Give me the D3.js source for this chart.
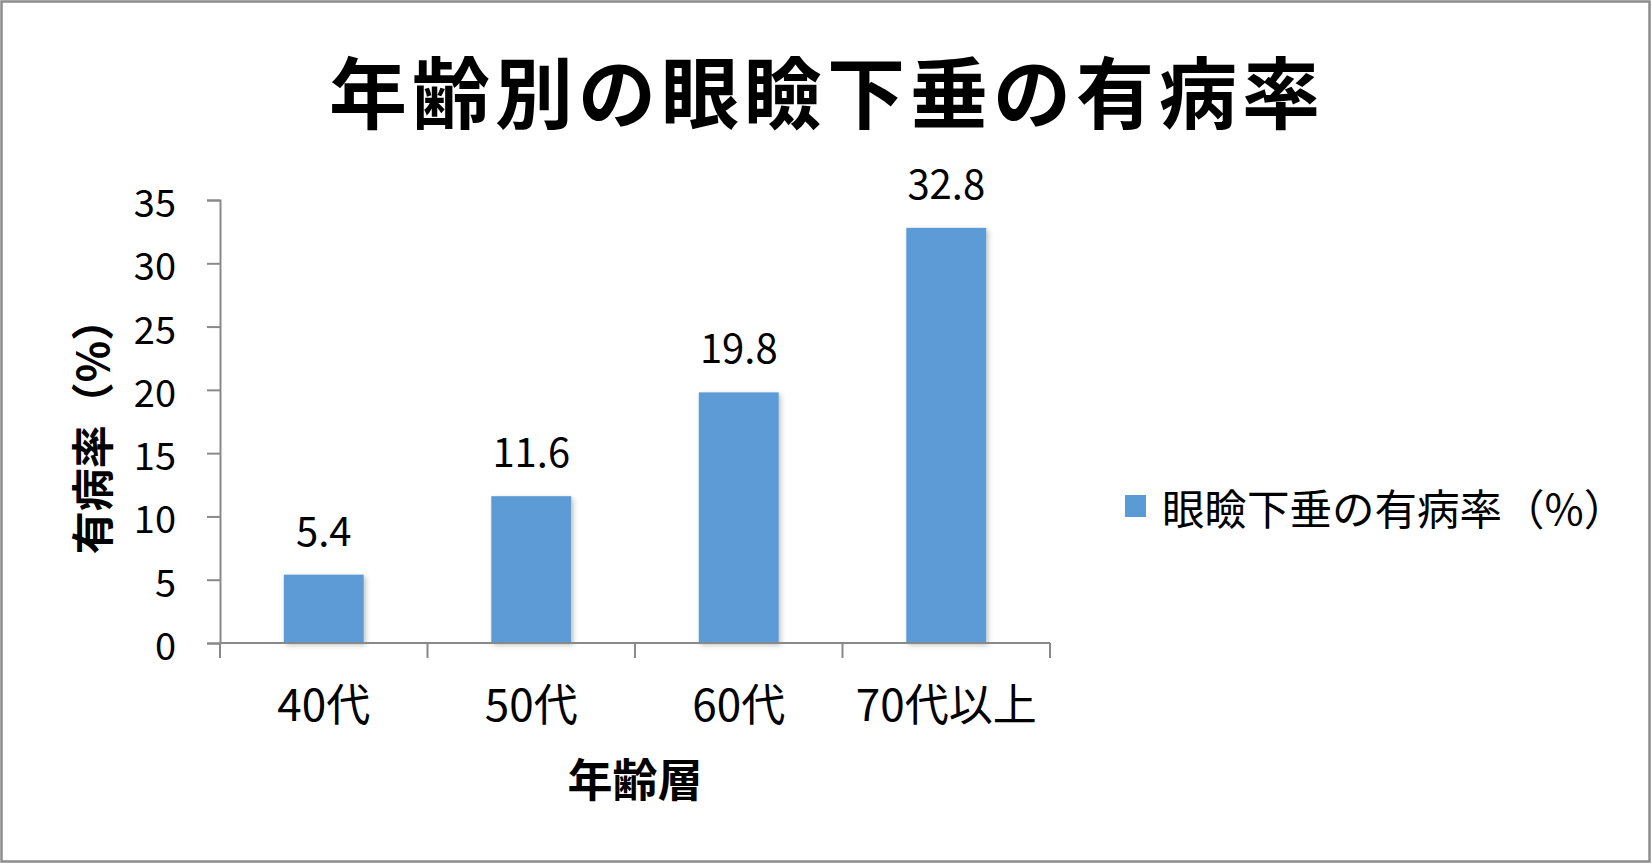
<!DOCTYPE html>
<html>
<head>
<meta charset="utf-8">
<script src="https://cdn.jsdelivr.net/npm/d3@7"></script>
<style>
  html, body { margin: 0; padding: 0; background: #fff; }
  svg { display: block; font-family: "Noto Sans CJK JP", "Noto Sans", sans-serif; }
</style>
</head>
<body>
<div id="viscontainer"></div>
<script>
const ageGroups = ["40代", "50代", "60代", "70代以上"];
const prevalence = [5.4, 11.6, 19.8, 32.8];
const yTicks = [0, 5, 10, 15, 20, 25, 30, 35];
const chartTitle = "年齢別の眼瞼下垂の有病率";
const xTitle = "年齢層";
const yTitle = "有病率（%）";
const seriesName = "眼瞼下垂の有病率（%）";

function makeVis() {
  const width = 1652;
  const height = 865;
  const plotLeft = 220;
  const plotRight = 1050;
  const plotTop = 200;
  const plotBottom = 643;
  const barColor = "#5B9BD5";
  const axisColor = "#898989";

  const data = ageGroups.map((g, i) => ({ group: g, value: prevalence[i] }));

  const svg = d3.create("svg").attr("width", width).attr("height", height);
  viscontainer.append(svg.node());

  // subtle excel-like shadow under the bars
  const filter = svg.append("defs").append("filter")
    .attr("id", "shadow").attr("x", "-20%").attr("y", "-10%")
    .attr("width", "140%").attr("height", "120%");
  filter.append("feDropShadow")
    .attr("dx", 2).attr("dy", 2).attr("stdDeviation", 2.5)
    .attr("flood-color", "#000").attr("flood-opacity", 0.25);

  // chart frame
  svg.append("rect")
    .attr("x", 1.5).attr("y", 1.5)
    .attr("width", width - 4).attr("height", height - 5)
    .attr("fill", "#fff").attr("stroke", "#8c8c8c").attr("stroke-width", 2.5);

  // scales
  const xBand = d3.scaleBand().domain(ageGroups).range([plotLeft, plotRight]).padding(0);
  const xScale = d3.scaleBand().domain(ageGroups).range([plotLeft, plotRight])
    .paddingInner(0.615).paddingOuter(0.3075);
  const yScale = d3.scaleLinear().domain([0, 35]).range([plotBottom, plotTop]);

  // title
  svg.append("text")
    .attr("x", 827).attr("y", 89)
    .attr("text-anchor", "middle").attr("dominant-baseline", "central")
    .attr("font-size", 78).attr("font-weight", "bold")
    .attr("letter-spacing", 5)
    .text(chartTitle);

  // bars
  svg.append("g").selectAll("rect")
    .data(data)
    .join("rect")
    .attr("x", (d) => xScale(d.group))
    .attr("y", (d) => yScale(d.value))
    .attr("width", xScale.bandwidth())
    .attr("height", (d) => plotBottom - yScale(d.value))
    .attr("fill", barColor)
    .attr("filter", "url(#shadow)");

  // data labels
  svg.append("g").selectAll("text")
    .data(data)
    .join("text")
    .attr("x", (d) => xScale(d.group) + xScale.bandwidth() / 2)
    .attr("y", (d) => yScale(d.value) - 46)
    .attr("text-anchor", "middle").attr("dominant-baseline", "central")
    .attr("font-size", 40)
    .text((d) => d.value.toFixed(1));

  // y axis
  const yAxis = svg.append("g")
    .attr("transform", `translate(${plotLeft}, 0)`)
    .call(d3.axisLeft(yScale).tickValues(yTicks).tickSize(13).tickPadding(31));
  yAxis.selectAll("path, line").attr("stroke", axisColor).attr("stroke-width", 2);
  yAxis.selectAll("text")
    .attr("font-size", 38).attr("fill", "#000")
    .attr("font-family", "\"Noto Sans CJK JP\", sans-serif")
    .attr("dy", null).attr("dominant-baseline", "central");

  // x axis: ticks sit on category boundaries
  const xAxis = svg.append("g").attr("transform", `translate(0, ${plotBottom})`);
  xAxis.append("line")
    .attr("x1", plotLeft).attr("x2", plotRight)
    .attr("stroke", axisColor).attr("stroke-width", 2);
  const boundaries = ageGroups.map((g) => xBand(g)).concat([plotRight]);
  xAxis.selectAll("line.tick")
    .data(boundaries)
    .join("line")
    .attr("class", "tick")
    .attr("x1", (d) => d).attr("x2", (d) => d)
    .attr("y1", 0).attr("y2", 15)
    .attr("stroke", axisColor).attr("stroke-width", 2);
  xAxis.selectAll("text")
    .data(ageGroups)
    .join("text")
    .attr("x", (d) => xBand(d) + xBand.bandwidth() / 2)
    .attr("y", 59)
    .attr("text-anchor", "middle").attr("dominant-baseline", "central")
    .attr("font-size", 44)
    .text((d) => d);

  // axis titles
  svg.append("text")
    .attr("x", 635).attr("y", 777)
    .attr("text-anchor", "middle").attr("dominant-baseline", "central")
    .attr("font-size", 45).attr("font-weight", "bold")
    .text(xTitle);

  svg.append("text")
    .attr("transform", "translate(90, 426) rotate(-90)")
    .attr("text-anchor", "middle").attr("dominant-baseline", "central")
    .attr("font-size", 43).attr("font-weight", "bold")
    .text(yTitle);

  // legend
  const legend = svg.append("g").attr("transform", "translate(1125, 506)");
  legend.append("rect")
    .attr("x", 0).attr("y", -11)
    .attr("width", 21).attr("height", 22)
    .attr("fill", barColor);
  legend.append("text")
    .attr("x", 37).attr("y", 0)
    .attr("dominant-baseline", "central")
    .attr("font-size", 42.5)
    .text(seriesName);
}

makeVis();
</script>
</body>
</html>
